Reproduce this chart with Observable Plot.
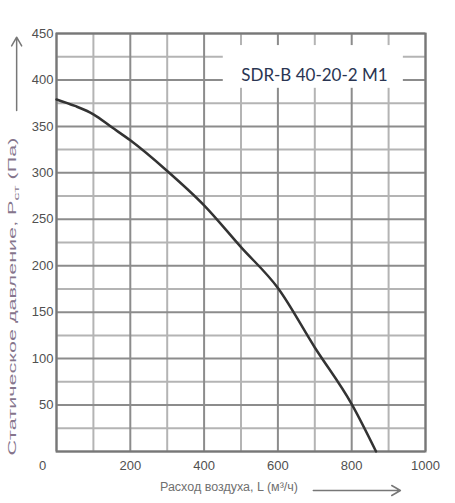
<!DOCTYPE html>
<html>
<head>
<meta charset="utf-8">
<script src="https://cdn.jsdelivr.net/npm/d3@7"></script>
<script src="https://cdn.jsdelivr.net/npm/@observablehq/plot@0.6"></script>
<style>
  html, body { margin: 0; padding: 0; background: #fff; }
</style>
</head>
<body>
<div id="chart"></div>
<script>
// --- Data ---
const flowL = [0, 50, 100, 150, 200, 300, 400, 500, 600, 700, 800, 866];
const pressure = [379, 372, 363, 349, 335, 302, 265, 220, 176, 112, 51, 0];
const xTickValues = [0, 200, 400, 600, 800, 1000];
const yTickValues = [50, 100, 150, 200, 250, 300, 350, 400, 450];
const modelName = "SDR-B 40-20-2 M1";
const xLabel = "Расход воздуха, L (м³/ч)";
const yLabelMain = "Статическое давление, P";
const yLabelSub = "ст";
const yLabelTail = " (Па)";

const curveData = flowL.map((x, i) => ({x, y: pressure[i]}));
const xGrid = d3.range(0, 1001, 100);
const yGrid = d3.range(0, 451, 25);

const chart = Plot.plot({
  width: 455,
  height: 503,
  marginLeft: 56,
  marginRight: 30,
  marginTop: 33,
  marginBottom: 52,
  style: {fontFamily: "'Liberation Sans Narrow', 'Liberation Sans', sans-serif", fontSize: "13px", color: "#505050", background: "#fff"},
  x: {domain: [0, 1000], ticks: xTickValues, tickFormat: d => String(d), tickSize: 0, tickPadding: 9, label: null},
  y: {domain: [0, 450], ticks: yTickValues, tickFormat: d => String(d), tickSize: 0, tickPadding: 3, label: null},
  marks: [
    Plot.ruleX(xGrid.filter(d => d % 200 !== 0), {stroke: "#b4b4b4", strokeWidth: 2}),
    Plot.ruleY(yGrid.filter(d => d % 50 !== 0), {stroke: "#b4b4b4", strokeWidth: 2}),
    Plot.ruleX(xGrid.filter(d => d % 200 === 0), {stroke: "#8c8c8c", strokeWidth: 2}),
    Plot.ruleY(yGrid.filter(d => d % 50 === 0), {stroke: "#8c8c8c", strokeWidth: 2}),
    Plot.frame({stroke: "#777", strokeWidth: 2}),
    Plot.rect([modelName], {x1: 452, x2: 940, y1: 391, y2: 437, fill: "white"}),
    Plot.text([modelName], {x: 699, y: 405, text: d => d, fontSize: 17, fill: "#2a3552", fontFamily: "Lato, 'Open Sans', sans-serif"}),
    Plot.line(curveData, {x: "x", y: "y", curve: "monotone-x", stroke: "#333", strokeWidth: 2.5}),
    // axis titles
    Plot.text([xLabel], {frameAnchor: "bottom", text: d => d, dy: 39, dx: -12, fontSize: 12.5, fill: "#707070"}),
    Plot.arrow([xLabel], {x1: 696, x2: 932, y1: -42, y2: -42, stroke: "#777", strokeWidth: 1.5, headLength: 10}),
    Plot.text([yLabelMain], {frameAnchor: "left", text: d => d, rotate: -90, textAnchor: "start", dx: -44, dy: 213, fontSize: 11, fill: "#85758c", className: "ylab"}),
    Plot.arrow([yLabelMain], {x1: -108, x2: -108, y1: 367, y2: 446, stroke: "#777", strokeWidth: 1.5, headLength: 10})
  ]
});

// move "0" x tick slightly left like the reference
d3.select(chart).selectAll("g[aria-label='x-axis tick label'] text").each(function(d) {
  if (+d === 0) d3.select(this).attr("dx", -14);
});

// y title with subscript, stretched along its length
const yl = d3.select(chart).select(".ylab text");
if (!yl.empty()) {
  yl.text(null);
  yl.append("tspan").text(yLabelMain);
  yl.append("tspan").attr("dy", 3).attr("font-size", 8).text(yLabelSub);
  yl.append("tspan").attr("dy", -3).text(yLabelTail);
  yl.attr("textLength", 318).attr("lengthAdjust", "spacingAndGlyphs");
}

document.getElementById("chart").appendChild(chart);
</script>
</body>
</html>
